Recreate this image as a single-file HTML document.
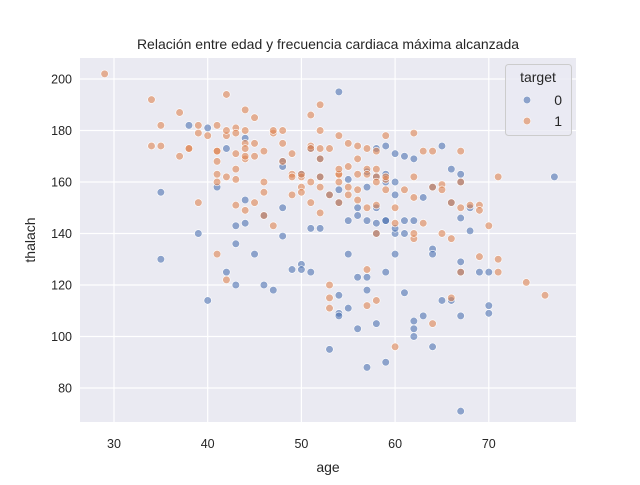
<!DOCTYPE html>
<html><head><meta charset="utf-8"><style>
body{margin:0;background:#fff;font-family:"Liberation Sans","DejaVu Sans",sans-serif}
svg text{fill:#262626}
</style></head><body>
<svg id="c" width="640" height="480">
<rect x="80" y="58" width="496" height="364" fill="#eaeaf2"/>
<g id="grid"></g><g id="ticks"></g><g id="pts"></g>
<text x="328" y="49" text-anchor="middle" font-size="14">Relación entre edad y frecuencia cardiaca máxima alcanzada</text>
<text x="328" y="472" text-anchor="middle" font-size="14">age</text>
<text transform="translate(35,240) rotate(-90)" text-anchor="middle" font-size="14">thalach</text>
<g>
<rect x="505.5" y="64.5" width="66" height="71" rx="3" fill="#eaeaf2" fill-opacity="0.8" stroke="#ccc"/>
<text x="538" y="82" text-anchor="middle" font-size="14">target</text>
<circle cx="527" cy="100" r="3.8" fill="#4c72b0" fill-opacity="0.6" stroke="#fff" stroke-width="0.6"/>
<text x="562" y="105" text-anchor="end" font-size="14">0</text>
<circle cx="527" cy="121" r="3.8" fill="#dd8452" fill-opacity="0.6" stroke="#fff" stroke-width="0.6"/>
<text x="562" y="126" text-anchor="end" font-size="14">1</text>
</g>
</svg>
<script>
const xTicks=[30,40,50,60,70];
const yTicks=[80,100,120,140,160,180,200];
const age1=[29,34,34,35,35,37,37,38,38,39,39,39,40,41,41,41,41,41,41,41,42,42,42,42,42,43,43,43,43,43,44,44,44,44,44,44,44,45,45,45,45,46,46,46,46,47,47,48,48,48,49,49,49,50,50,50,51,51,51,51,51,52,52,52,52,52,52,52,53,53,53,53,53,54,54,54,54,54,54,55,55,55,55,56,56,56,56,56,57,57,57,57,57,57,58,58,58,58,58,58,58,59,59,59,59,60,60,60,61,62,62,62,62,62,63,63,64,64,64,65,65,65,66,66,66,67,67,67,67,68,69,69,69,70,71,71,71,74,76,49,43,47,50];
const hr1=[202,192,174,182,174,187,170,173,173,179,152,182,178,182,168,172,163,172,132,160,178,194,162,122,180,181,165,161,171,179,188,180,175,169,170,149,173,185,175,152,170,172,160,156,147,179,143,175,180,168,171,163,162,158,162,163,186,174,173,160,152,190,180,173,162,158,169,148,173,155,120,115,111,178,163,160,152,163,165,155,158,166,175,163,157,169,174,153,150,165,173,163,112,126,172,165,162,160,140,151,114,161,157,162,178,144,96,150,157,162,138,140,154,179,144,172,172,158,105,140,159,157,138,115,152,160,150,172,125,151,151,149,131,143,130,162,125,121,116,155,151,180,156];
const age0=[35,35,38,39,40,40,41,42,42,43,43,43,44,44,44,45,46,46,47,48,48,48,48,49,50,50,50,51,51,51,52,52,52,53,53,54,54,54,54,54,54,55,55,55,55,56,56,56,56,57,57,57,57,57,57,58,58,58,58,58,59,59,59,59,59,59,60,60,60,60,60,61,61,61,61,62,62,62,62,62,63,63,64,64,64,64,65,65,66,66,66,67,67,67,67,67,67,67,68,68,69,70,70,70,77,59,60,58];
const hr0=[156,130,182,140,181,114,158,125,173,120,136,143,153,177,144,132,147,120,118,168,166,150,139,126,163,128,126,173,125,142,162,142,169,155,95,195,109,108,116,157,152,145,132,111,161,103,150,123,147,164,158,145,118,123,88,162,173,140,150,144,174,163,160,145,125,90,171,160,155,140,132,170,140,145,117,169,145,100,103,106,108,154,158,134,132,96,174,114,165,152,114,163,160,146,125,129,71,108,141,150,125,109,112,125,162,145,142,105];
const X=a=>114+(a-30)*9.37;
const Y=v=>79+(200-v)*2.575;
const NS="http://www.w3.org/2000/svg";
const grid=document.getElementById('grid'),ticks=document.getElementById('ticks'),pts=document.getElementById('pts');
xTicks.forEach(t=>{
 const l=document.createElementNS(NS,'line');l.setAttribute('x1',X(t));l.setAttribute('x2',X(t));l.setAttribute('y1',58);l.setAttribute('y2',422);l.setAttribute('stroke','#fff');l.setAttribute('stroke-width','1.2');
 
 
 grid.appendChild(l);
 const s=document.createElementNS(NS,'text');s.setAttribute('x',X(t));s.setAttribute('y',448);s.setAttribute('text-anchor','middle');s.setAttribute('font-size','12.5');s.textContent=t;
 
 
 ticks.appendChild(s);
});
yTicks.forEach(t=>{
 const l=document.createElementNS(NS,'line');l.setAttribute('y1',Y(t));l.setAttribute('y2',Y(t));l.setAttribute('x1',80);l.setAttribute('x2',576);l.setAttribute('stroke','#fff');l.setAttribute('stroke-width','1.2');
 
 
 grid.appendChild(l);
 const s=document.createElementNS(NS,'text');s.setAttribute('x',72);s.setAttribute('y',Y(t)+4.5);s.setAttribute('text-anchor','end');s.setAttribute('font-size','12.5');s.textContent=t;
 
 
 ticks.appendChild(s);
});
function draw(ages,hrs,col,name){
 ages.forEach((a,i)=>{
  const c=document.createElementNS(NS,'circle');
  c.setAttribute('cx',X(a));c.setAttribute('cy',Y(hrs[i]));c.setAttribute('r',3.8);
  c.setAttribute('fill',col);c.setAttribute('fill-opacity','0.6');c.setAttribute('stroke','#fff');c.setAttribute('stroke-width','0.6');
  
  
  pts.appendChild(c);
 });
}
draw(age0,hr0,'#4c72b0','point-target-0');
draw(age1,hr1,'#dd8452','point-target-1');
</script>
</body></html>
